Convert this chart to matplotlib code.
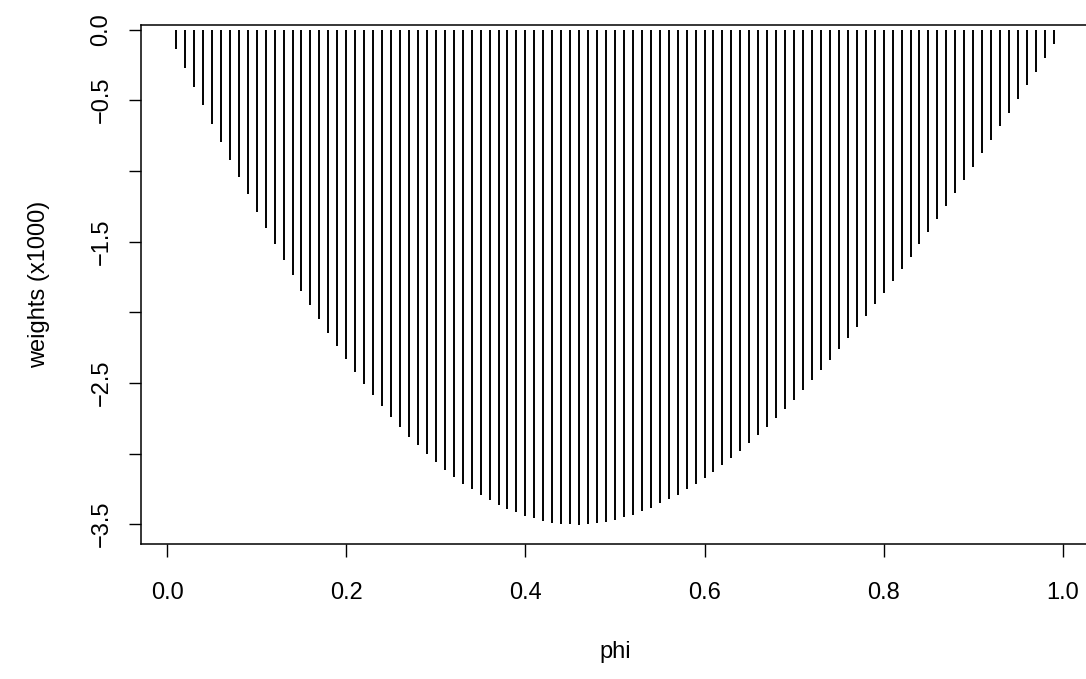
import numpy as np
import matplotlib
matplotlib.use("Agg")
import matplotlib.pyplot as plt

# phi grid and the (x1000) weights at each phi
phi = np.round(np.arange(1, 100) * 0.01, 2)
weights = -np.array([
    0.138, 0.272, 0.404, 0.534, 0.666, 0.793, 0.920, 1.045, 1.167, 1.288,
    1.403, 1.519, 1.632, 1.740, 1.848, 1.950, 2.051, 2.148, 2.242, 2.334,
    2.423, 2.505, 2.588, 2.666, 2.739, 2.812, 2.880, 2.943, 3.003, 3.061,
    3.116, 3.168, 3.212, 3.254, 3.290, 3.330, 3.363, 3.394, 3.417, 3.441,
    3.459, 3.476, 3.488, 3.498, 3.502, 3.504, 3.502, 3.492, 3.483, 3.469,
    3.452, 3.434, 3.410, 3.382, 3.353, 3.323, 3.293, 3.252, 3.217, 3.170,
    3.130, 3.083, 3.031, 2.979, 2.925, 2.869, 2.809, 2.748, 2.685, 2.618,
    2.553, 2.482, 2.411, 2.338, 2.263, 2.185, 2.107, 2.028, 1.945, 1.862,
    1.780, 1.693, 1.608, 1.519, 1.429, 1.339, 1.247, 1.155, 1.064, 0.970,
    0.873, 0.779, 0.685, 0.588, 0.491, 0.395, 0.298, 0.199, 0.102,
])

xticks = [0.0, 0.2, 0.4, 0.6, 0.8, 1.0]
yticks = [-3.5, -3.0, -2.5, -2.0, -1.5, -1.0, -0.5, 0.0]
ylabels = ["\u22123.5", "", "\u22122.5", "", "\u22121.5", "", "\u22120.5", "0.0"]

plt.rcParams["font.family"] = ["Liberation Sans", "DejaVu Sans"]
plt.rcParams["font.size"] = 17

fig = plt.figure(figsize=(10.86, 6.79), dpi=100)
ax = fig.add_axes([0.1298, 0.1988, 0.8729, 0.7648])

# type="h" style: vertical lines from zero
ax.vlines(phi, 0, weights, color="black", linewidth=1.4)

# 4% padding on each side, like base R
def pad(v):
    lo, hi = np.min(v), np.max(v)
    d = (hi - lo) * 0.04
    return lo - d, hi + d

ax.set_xlim(*pad(phi))
ax.set_ylim(*pad(weights))

ax.set_xticks(xticks)
ax.set_xticklabels(["%.1f" % t for t in xticks])
ax.set_yticks(yticks)
ax.set_yticklabels(ylabels, rotation=90, va="center")
ax.tick_params(direction="out", length=9, width=1.0, colors="black")
ax.tick_params(axis="x", pad=18)
ax.tick_params(axis="y", pad=11.5)
for s in ax.spines.values():
    s.set_linewidth(1.1)

ax.set_xlabel("phi", labelpad=27)
ax.set_ylabel("weights (x1000)", labelpad=29)

fig.savefig("out.png", dpi=100)
